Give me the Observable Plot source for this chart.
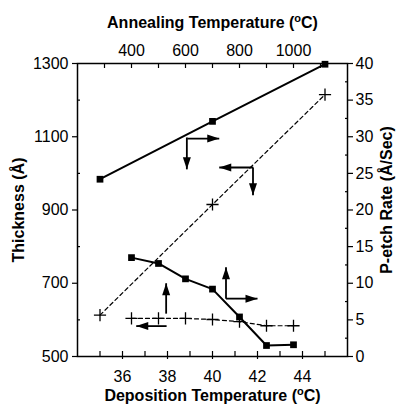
<!DOCTYPE html>
<html><head><meta charset="utf-8">
<script src="https://cdn.jsdelivr.net/npm/d3@7"></script>
<script src="https://cdn.jsdelivr.net/npm/@observablehq/plot@0.6"></script>
<style>body{margin:0;background:#fff}</style>
</head><body><div id="chart"></div>
<script>
// Tick labels
const depTicks = [36, 38, 40, 42, 44];
const depMinorTicks = [35, 36, 37, 38, 39, 40, 41, 42, 43, 44, 45];
const annealTicks = [400, 600, 800, 1000];
const annealMinorTicks = [300, 400, 500, 600, 700, 800, 900, 1000, 1100];
const thickTicks = [500, 700, 900, 1100, 1300];
const thickMinorTicks = [600, 800, 1000, 1200];
const rateTicks = [0, 5, 10, 15, 20, 25, 30, 35, 40];
const rateMinorTicks = [2.5, 7.5, 12.5, 17.5, 22.5, 27.5, 32.5, 37.5];

// Series vs deposition temperature (bottom axis)
const depTemp = [35, 40, 45];
const depThickness = [613, 915, 1215];   // left axis, dashed +
const depRate = [24.2, 32.1, 39.9];      // right axis, solid squares

// Series vs annealing temperature (top axis)
const annealTemp = [400, 500, 600, 700, 800, 900, 1000];
const annealRate = [13.5, 12.7, 10.6, 9.2, 5.4, 1.5, 1.6];            // right axis, solid squares
const annealThickness = [604, 604, 604, 601, 595, 584, 584];          // left axis, dashed +

// Arrow annotations (in deposition-temperature / thickness units)
const arrowX1 = [38.86, 38.88, 41.81, 41.80, 40.60, 40.60, 37.94, 37.96];
const arrowY1 = [1098, 1095, 1016, 1016, 658, 658, 617, 583];
const arrowX2 = [38.86, 40.30, 40.30, 41.80, 40.60, 42.00, 37.94, 36.61];
const arrowY2 = [1011, 1095, 1016, 940, 744, 658, 700, 583];
const arrowDir = [180, 90, 270, 180, 0, 90, 0, 270];

// Secondary axes mapped onto the primary scales
const annealToDep = a => 34 + (a - 200) * 0.012;
const depToAnneal = x => 200 + (x - 34) / 0.012;
const rateToThick = r => 500 + r * 20;
const thickToRate = t => (t - 500) / 20;

const depSeries = depTemp.map((t, i) => ({x: t, thick: depThickness[i], rate: depRate[i]}));
const annealSeries = annealTemp.map((t, i) => ({a: t, thick: annealThickness[i], rate: annealRate[i]}));
const arrows = arrowX1.map((x1, i) => ({x1, y1: arrowY1[i], x2: arrowX2[i], y2: arrowY2[i], r: arrowDir[i]}));

const head = {draw(ctx) { ctx.moveTo(0, 0); ctx.lineTo(-4, 12); ctx.lineTo(4, 12); ctx.closePath(); }};

const font = "Liberation Sans, Arial, Helvetica, sans-serif";
const blank = () => "";

const chart = Plot.plot({
  width: 401, height: 406,
  marginLeft: 77, marginRight: 54, marginTop: 63, marginBottom: 50,
  style: {fontFamily: font, fontSize: "16px", color: "black", background: "white", overflow: "visible"},
  x: {domain: [34, 46]},
  y: {domain: [500, 1300]},
  marks: [
    // ticks
    Plot.axisX({anchor: "bottom", ticks: depMinorTicks, tickSize: -5, strokeWidth: 1.2, tickFormat: blank, label: null}),
    Plot.axisX({anchor: "bottom", ticks: depTicks, tickSize: 3, strokeWidth: 1.2, tickFormat: blank, label: null}),
    Plot.axisX({anchor: "bottom", ticks: depTicks, tickSize: 0, tickPadding: 14, fontSize: 16, label: null}),
    Plot.axisX({anchor: "top", ticks: annealMinorTicks.map(annealToDep), tickSize: -4, strokeWidth: 1.2, tickFormat: blank, label: null}),
    Plot.axisX({anchor: "top", ticks: annealTicks.map(annealToDep), tickSize: 0, tickPadding: 8, fontSize: 16, label: null,
      tickFormat: v => String(Math.round(depToAnneal(v)))}),
    Plot.axisY({anchor: "left", ticks: thickTicks, tickSize: 5, strokeWidth: 1.2, tickFormat: blank, label: null}),
    Plot.axisY({anchor: "left", ticks: thickMinorTicks, tickSize: -3, strokeWidth: 1.2, tickFormat: blank, label: null}),
    Plot.axisY({anchor: "left", ticks: thickTicks, tickSize: 0, tickPadding: 9, fontSize: 16, label: null, tickFormat: d => String(d)}),
    Plot.axisY({anchor: "right", ticks: rateTicks.map(rateToThick), tickSize: 5, strokeWidth: 1.2, tickFormat: blank, label: null}),
    Plot.axisY({anchor: "right", ticks: rateMinorTicks.map(rateToThick), tickSize: -3, strokeWidth: 1.2, tickFormat: blank, label: null}),
    Plot.axisY({anchor: "right", ticks: rateTicks.map(rateToThick), tickSize: 0, tickPadding: 8, fontSize: 16, label: null,
      tickFormat: v => String(Math.round(thickToRate(v)))}),
    Plot.frame({stroke: "black", strokeWidth: 1.5}),
    // axis titles
    Plot.text([0], {frameAnchor: "top", dy: -41, text: () => "Annealing Temperature (oC)", fontWeight: "bold", fontSize: 16, lineAnchor: "middle", textAnchor: "middle"}),
    Plot.text([0], {frameAnchor: "bottom", dy: 39, text: () => "Deposition Temperature (oC)", fontWeight: "bold", fontSize: 16, lineAnchor: "middle", textAnchor: "middle"}),
    Plot.text([0], {frameAnchor: "left", dx: -59, dy: 0, rotate: -90, text: () => "Thickness (Å)", fontWeight: "bold", fontSize: 16, lineAnchor: "middle", textAnchor: "middle"}),
    Plot.text([0], {frameAnchor: "right", dx: 39, dy: -10, rotate: -90, text: () => "P-etch Rate (Å/Sec)", fontWeight: "bold", fontSize: 16, lineAnchor: "middle", textAnchor: "middle"}),
    // series vs deposition temperature
    Plot.line(depSeries, {x: "x", y: d => rateToThick(d.rate), stroke: "black", strokeWidth: 2}),
    Plot.dot(depSeries, {x: "x", y: d => rateToThick(d.rate), symbol: "square", r: 3.8, fill: "black"}),
    Plot.line(depSeries, {x: "x", y: "thick", stroke: "black", strokeWidth: 1.2, strokeDasharray: "4,3"}),
    Plot.dot(depSeries, {x: "x", y: "thick", symbol: "plus", r: 4, stroke: "black", strokeWidth: 1.3}),
    // series vs annealing temperature
    Plot.line(annealSeries, {x: d => annealToDep(d.a), y: d => rateToThick(d.rate), stroke: "black", strokeWidth: 2}),
    Plot.dot(annealSeries, {x: d => annealToDep(d.a), y: d => rateToThick(d.rate), symbol: "square", r: 3.8, fill: "black"}),
    Plot.line(annealSeries, {x: d => annealToDep(d.a), y: "thick", stroke: "black", strokeWidth: 1.2, strokeDasharray: "4,3"}),
    Plot.dot(annealSeries, {x: d => annealToDep(d.a), y: "thick", symbol: "plus", r: 4, stroke: "black", strokeWidth: 1.3}),
    // arrows
    Plot.link(arrows, {x1: "x1", y1: "y1", x2: "x2", y2: "y2", stroke: "black", strokeWidth: 1.8}),
    Plot.dot(arrows, {x: "x2", y: "y2", symbol: head, rotate: "r", fill: "black", stroke: "none", r: 4})
  ]
});

// superscript "o" in °C
chart.querySelectorAll("text").forEach(t => {
  const s = t.textContent;
  const i = s.indexOf("(oC)");
  if (i < 0) return;
  const dy = t.getAttribute("dy");
  t.textContent = "";
  const a = document.createElementNS("http://www.w3.org/2000/svg", "tspan");
  a.textContent = s.slice(0, i + 1);
  const b = document.createElementNS("http://www.w3.org/2000/svg", "tspan");
  b.textContent = "o"; b.setAttribute("font-size", "11"); b.setAttribute("dy", "-6");
  const c = document.createElementNS("http://www.w3.org/2000/svg", "tspan");
  c.textContent = "C)"; c.setAttribute("dy", "6");
  t.append(a, b, c);
  if (dy) t.setAttribute("dy", dy);
});
document.getElementById("chart").append(chart);
</script>
</body></html>
